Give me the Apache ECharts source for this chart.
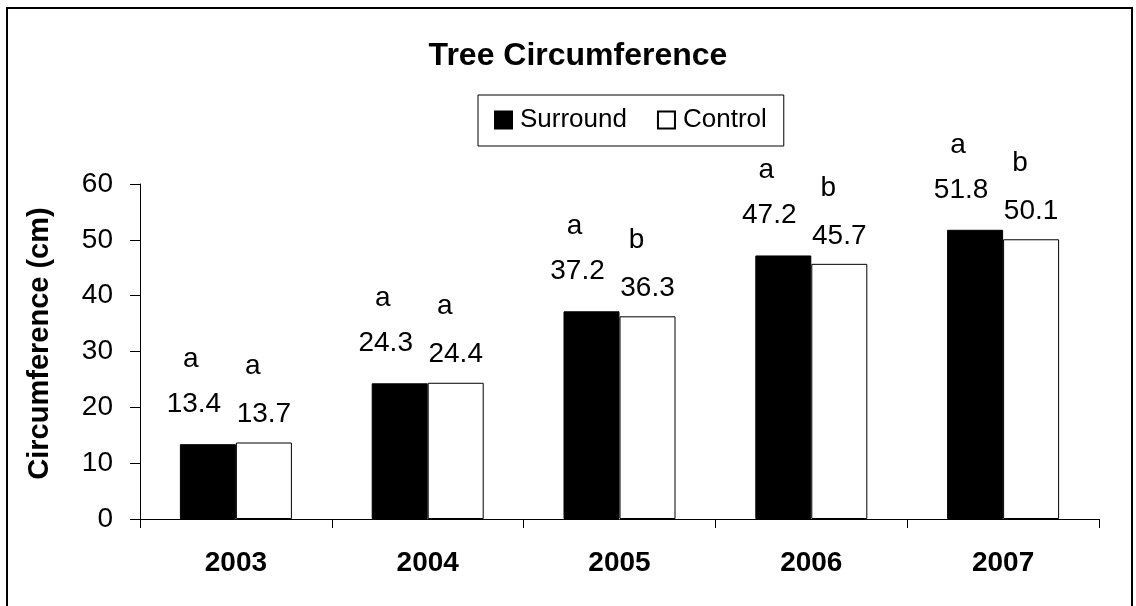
<!doctype html>
<html>
<head>
<meta charset="utf-8">
<title>Tree Circumference</title>
<style>
  html, body { margin: 0; padding: 0; background: #fff; }
  #chart { width: 1136px; height: 606px; }
</style>
</head>
<body>
<div id="chart"></div>
<script src="https://cdn.jsdelivr.net/npm/echarts@6/dist/echarts.min.js"></script>
<script>
// data
var years = ['2003', '2004', '2005', '2006', '2007'];
var surround = [13.4, 24.3, 37.2, 47.2, 51.8];
var control = [13.7, 24.4, 36.3, 45.7, 50.1];
var surroundLetters = ['a', 'a', 'a', 'a', 'a'];
var controlLetters = ['a', 'a', 'b', 'b', 'b'];
var yTicks = [0, 10, 20, 30, 40, 50, 60];

var font = 'Liberation Sans, Arial, sans-serif';

// value label with the significance letter on the line above
function letterLabel(letters, dist, dx, letterPad, letterLine) {
  return {
    show: true,
    position: 'top',
    distance: dist,
    offset: [dx, 0],
    formatter: function (p) {
      return '{l|' + letters[p.dataIndex] + '}\n{v|' + p.value + '}';
    },
    rich: {
      l: { fontFamily: font, fontSize: 28, color: '#000', lineHeight: letterLine, padding: letterPad },
      v: { fontFamily: font, fontSize: 28, color: '#000', lineHeight: 28 }
    }
  };
}

var chart = echarts.init(document.getElementById('chart'));
chart.setOption({
  animation: false,
  backgroundColor: '#fff',
  textStyle: { fontFamily: font, color: '#000' },
  title: {
    text: 'Tree Circumference',
    left: 573,
    top: 35,
    textAlign: 'center',
    textStyle: { fontFamily: font, fontSize: 32, fontWeight: 'bold', color: '#000' }
  },
  legend: {
    left: 478,
    top: 95,
    orient: 'horizontal',
    icon: 'rect',
    itemWidth: 17,
    itemHeight: 17,
    itemGap: 30,
    padding: [12, 17, 13, 16],
    borderColor: '#000',
    borderWidth: 1,
    data: ['Surround', 'Control'],
    textStyle: { fontFamily: font, fontSize: 26, color: '#000', padding: [0, 0, 0, 3] }
  },
  graphic: [{
    type: 'rect',
    shape: { x: 7, y: 8, width: 1125, height: 610 },
    style: { fill: 'none', stroke: '#000', lineWidth: 2 },
    silent: true
  }],
  grid: { left: 140, right: 37, top: 184, bottom: 87 },
  xAxis: {
    type: 'category',
    data: years,
    boundaryGap: true,
    axisLine: { lineStyle: { color: '#000', width: 1 } },
    axisTick: { show: true, length: 9, inside: false, lineStyle: { color: '#000' } },
    axisLabel: { fontFamily: font, fontSize: 28, fontWeight: 'bold', color: '#000', margin: 30 }
  },
  yAxis: {
    type: 'value',
    min: yTicks[0],
    max: yTicks[yTicks.length - 1],
    interval: 10,
    name: 'Circumference (cm)',
    nameLocation: 'middle',
    nameRotate: 90,
    nameGap: 86,
    nameTextStyle: { fontFamily: font, fontSize: 29, fontWeight: 'bold', color: '#000', padding: [0, 0, 0, 16] },
    splitLine: { show: false },
    axisLine: { show: true, lineStyle: { color: '#000', width: 1 } },
    axisTick: { show: true, length: 10, inside: false, lineStyle: { color: '#000' } },
    axisLabel: { fontFamily: font, fontSize: 28, color: '#000', margin: 27 }
  },
  series: [
    {
      name: 'Surround',
      type: 'bar',
      data: surround,
      barWidth: 56,
      barGap: '0%',
      itemStyle: { color: '#000', borderColor: '#000', borderWidth: 1 },
      label: letterLabel(surroundLetters, 26, -14, [0, 6, 0, 0], 62)
    },
    {
      name: 'Control',
      type: 'bar',
      data: control,
      barWidth: 56,
      barGap: '0%',
      itemStyle: { color: '#fff', borderColor: '#000', borderWidth: 1 },
      label: letterLabel(controlLetters, 14, 0, [0, 22, 0, 0], 68)
    }
  ]
});
</script>
</body>
</html>
